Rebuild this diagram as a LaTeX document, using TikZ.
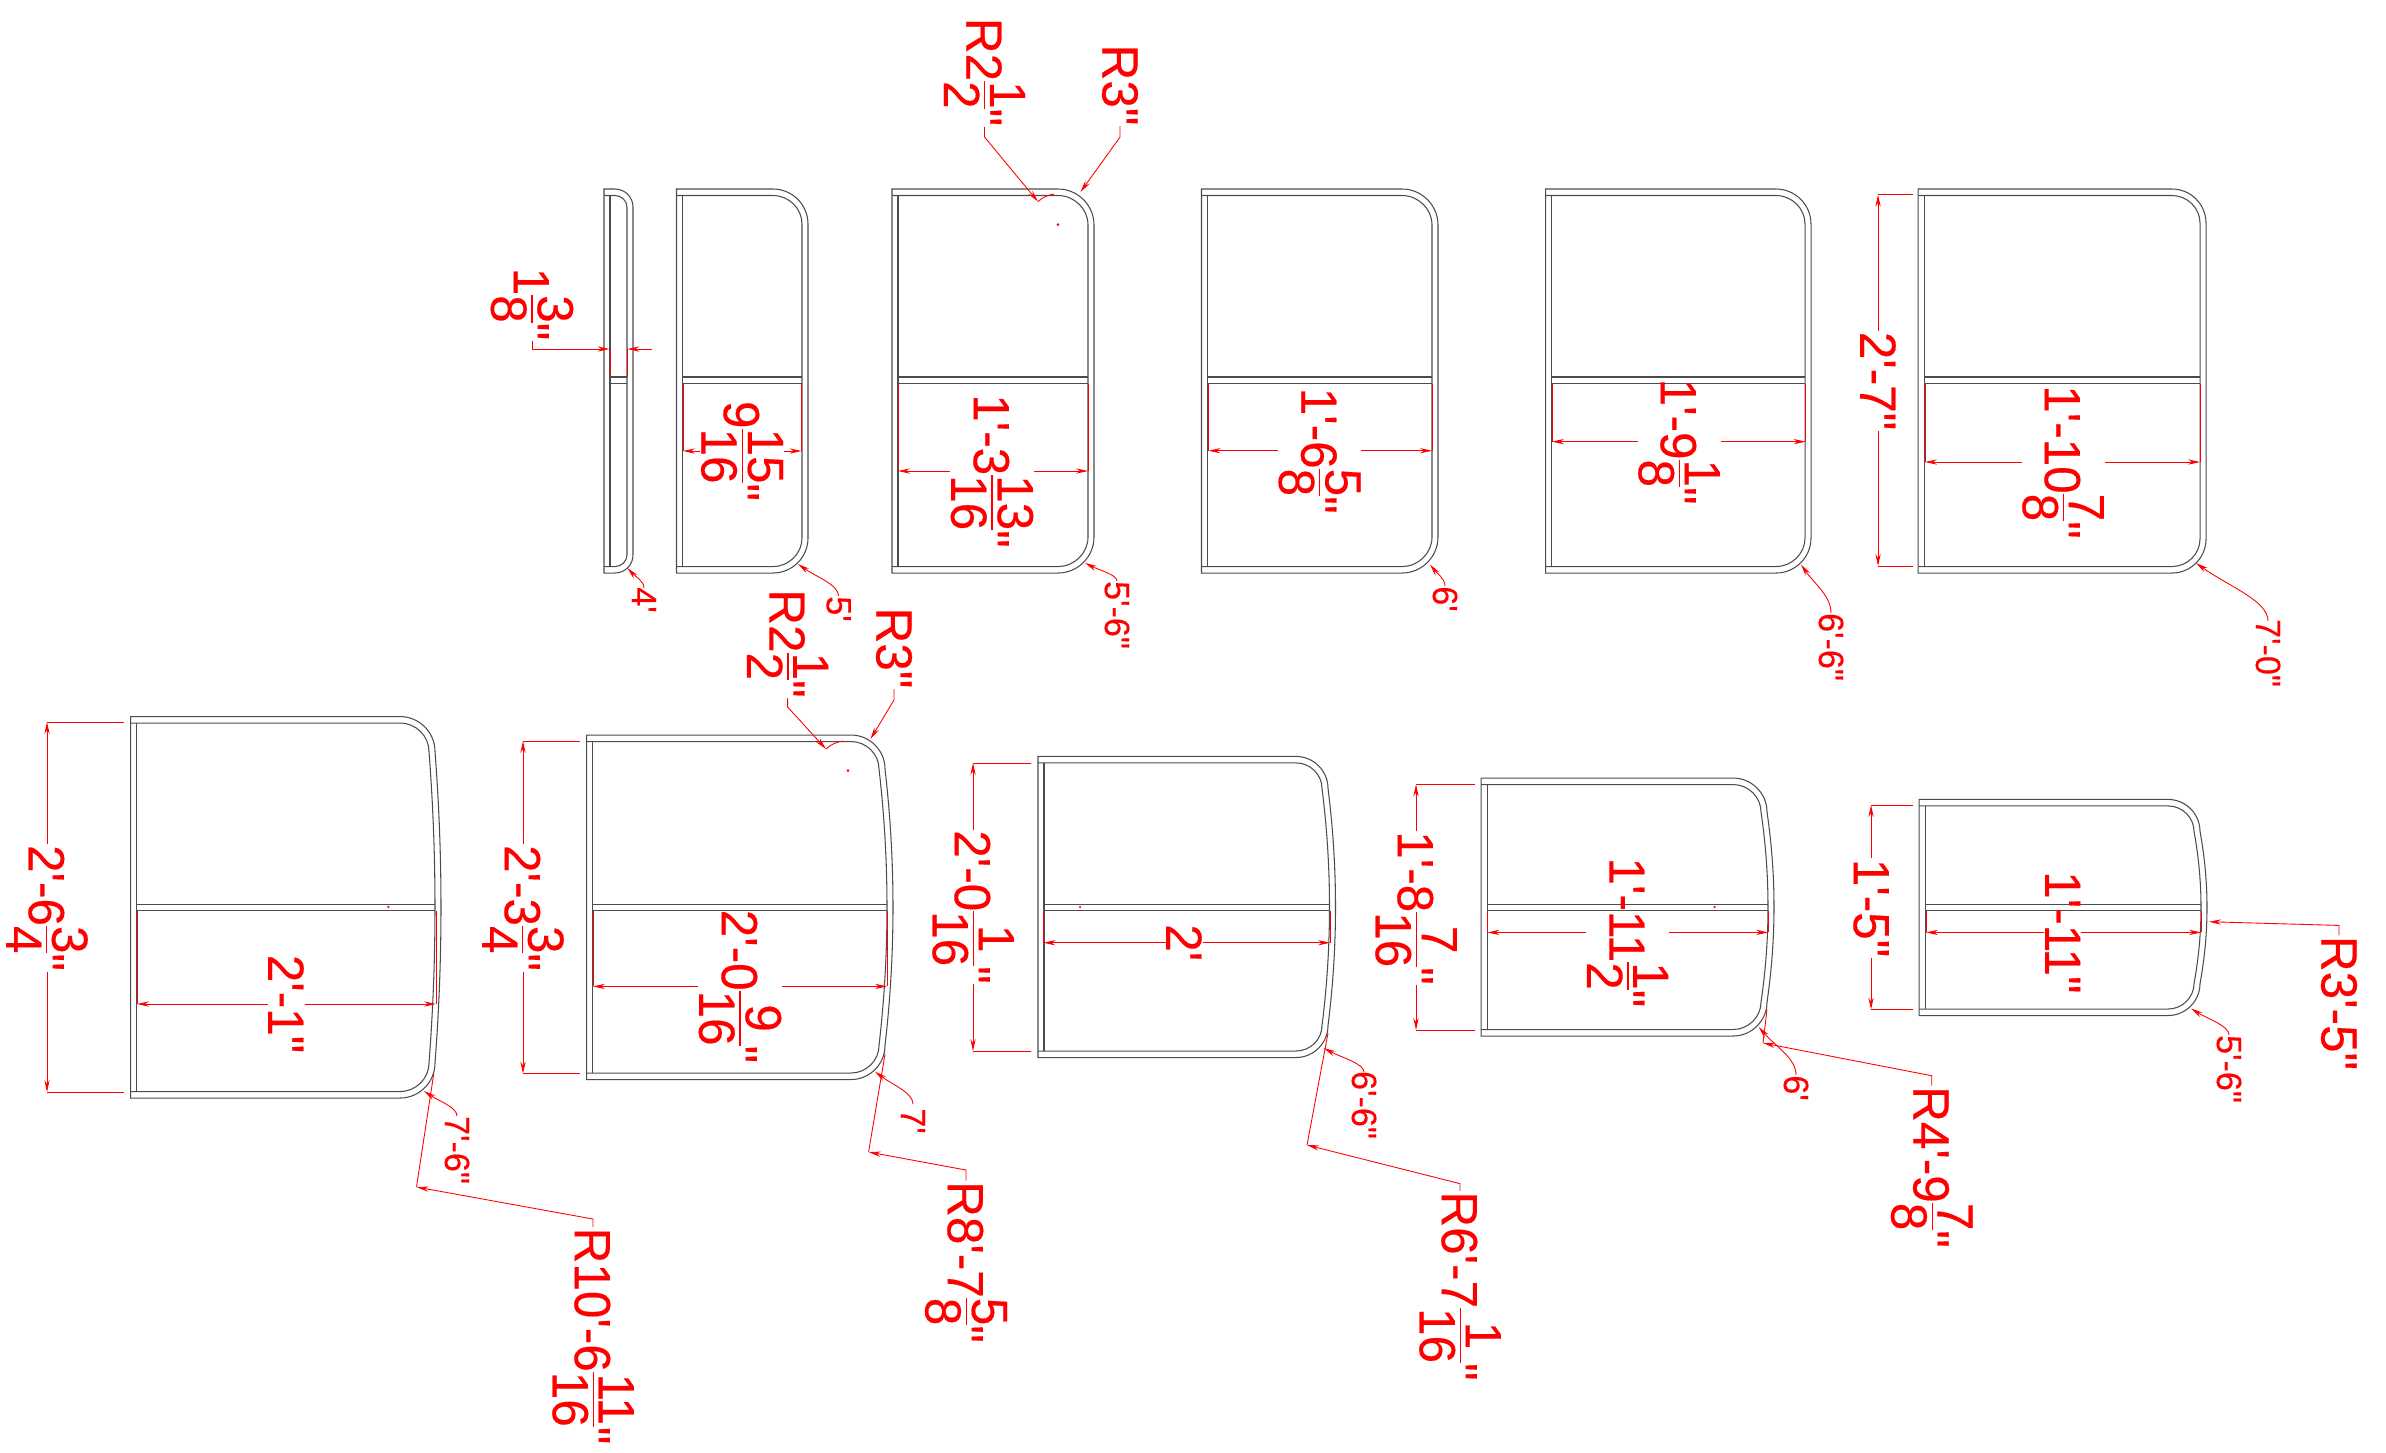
\documentclass[tikz,border=0pt]{standalone}
\usepackage{fontspec}
\usetikzlibrary{arrows.meta}
\newfontfamily\dimfont[FakeStretch=0.97,FakeBold=0.35]{Liberation Sans}
\newcommand{\fr}[2]{\raisebox{.11em}{$\vcenter{\offinterlineskip\halign{\hfil##\hfil\cr#1\cr\noalign{\kern.09em\hrule height .025em\kern.09em}#2\cr}}$}}
\tikzset{
  panelline/.style = {draw = black!70, line width = 0.3pt},
  extline/.style = {draw = red, line width = 0.25pt},
  dimline/.style = {extline, -{Stealth[length = 3.4pt, width = 1.5pt]}},
  dimtext/.style = {rotate = -90, text = red, inner sep = 0pt, font = \dimfont\fontsize{14.5}{15}\selectfont},
  smalltext/.style = {dimtext, font = \dimfont\fontsize{10}{11}\selectfont}
}
% x left, x right, top, bottom, corner radius, bulge, crossbar
\newcommand{\panel}[7]{
\draw [panelline] (#1,#3) -- ({#2-#5},#3) .. controls ({#2-0.45*#5},#3) and (#2,{#3+0.45*#5}) .. (#2,{#3+#5})
  .. controls ({#2+1.33*#6},{#3+#5+(#4-#3-2*#5)/3}) and ({#2+1.33*#6},{#4-#5-(#4-#3-2*#5)/3}) .. (#2,{#4-#5})
  .. controls (#2,{#4-0.45*#5}) and ({#2-0.45*#5},#4) .. ({#2-#5},#4) -- (#1,#4) -- cycle;
\draw [panelline] (#1,{#3+6.5}) -- ({#2-#5},{#3+6.5}) .. controls ({#2-6-0.45*(#5-6)},{#3+6.5}) and ({#2-6},{#3+6.5+0.45*(#5-6)}) .. ({#2-6},{#3+#5})
  .. controls ({#2-6+1.33*#6},{#3+#5+(#4-#3-2*#5)/3}) and ({#2-6+1.33*#6},{#4-#5-(#4-#3-2*#5)/3}) .. ({#2-6},{#4-#5})
  .. controls ({#2-6},{#4-6.5-0.45*(#5-6)}) and ({#2-6-0.45*(#5-6)},{#4-6.5}) .. ({#2-#5},{#4-6.5}) -- (#1,{#4-6.5});
\draw [panelline] ({#1+6},{#3+6.5}) -- ({#1+6},{#4-6.5});
\draw [panelline] ({#1+6},#7) -- ({#2-6+#6},#7);
\draw [panelline] ({#1+6},{#7+6.5}) -- ({#2-6+#6},{#7+6.5});
}
% name, x left, x right, y, start of extension, x of text, text
\newcommand{\widthdim}[7]{
\coordinate (#1l) at (#2,#4);
\coordinate (#1r) at (#3,#4);
\node [dimtext] (#1) at (#6,#4) {#7};
\draw [dimline] (#1) -- (#1l);
\draw [dimline] (#1) -- (#1r);
\draw [extline] (#2,#5) -- (#1l);
\draw [extline] (#3,#5) -- (#1r);
}
% name, x, y top, y bottom, end of extension, y of text, text
\newcommand{\heightdim}[7]{
\coordinate (#1t) at (#2,#3);
\coordinate (#1b) at (#2,#4);
\node [dimtext] (#1) at (#2,#6) {#7};
\draw [dimline] (#1) -- (#1t);
\draw [dimline] (#1) -- (#1b);
\draw [extline] (#1t) -- (#5,#3);
\draw [extline] (#1b) -- (#5,#4);
}
% name, tip x, tip y, x, y of text top, y of text, text
\newcommand{\bendnote}[7]{
\coordinate (#1t) at (#2,#3);
\coordinate (#1e) at (#4,#5);
\node [smalltext] (#1) at (#4,#6) {#7};
\draw [dimline] (#1e) .. controls (#4,{#5-0.35*(#5-#3)}) and ({#2+0.45*(#4-#2)},{#3+0.4*(#5-#3)}) .. (#1t);
}
\begin{document}
\begin{tikzpicture}[x = 0.1mm, y = -0.1mm]
\useasboundingbox (0,0) rectangle (2386,1452);
\panel{604}{633}{189}{573}{18}{0}{377}
\panel{676.5}{808}{189}{573}{35}{0}{377}
\panel{892}{1094}{189}{573}{36}{0}{377}
\panel{1201.5}{1438}{189}{573}{36}{0}{377}
\panel{1545.5}{1811}{189}{573}{35}{0}{377}
\panel{1918}{2206}{189}{573}{34}{0}{377}
\panel{130.7}{435}{716.5}{1098}{35}{6}{904}
\panel{586.7}{885}{735}{1079.5}{34}{8}{904}
\panel{1038}{1328}{756.4}{1057.5}{32}{7.5}{904}
\panel{1481}{1767}{778}{1036}{34}{7}{904}
\panel{1919}{2200}{799.4}{1015.5}{32}{7}{904}

\node [dimtext] (thick) at (532,304) {1\fr{3}{8}"};
\coordinate (thicka) at (609.5,349);
\coordinate (thickb) at (627.4,349);
\coordinate (thickc) at (652,349);
\draw [dimline] (thick.east) -- (532,349) -- (thicka);
\draw [dimline] (thickc) -- (thickb);
\draw [extline] (610.4,349) -- (610.4,377);
\draw [extline] (627,349) -- (627,377);

\widthdim{wB}{683}{801.5}{451}{384}{742}{9\fr{15}{16}"}
\widthdim{wC}{898}{1088}{471}{384}{992}{1'-3\fr{13}{16}"}
\widthdim{wD}{1208.5}{1432}{450.7}{384}{1319.5}{1'-6\fr{5}{8}"}
\widthdim{wE}{1552}{1805.5}{441.6}{384}{1679}{1'-9\fr{1}{8}"}
\widthdim{wF}{1925}{2200}{462}{384}{2063}{1'-10\fr{7}{8}"}
\widthdim{wG}{137}{436}{1004}{910.5}{286}{2'-1"}
\widthdim{wH}{593}{887}{986.4}{910.5}{740}{2'-0\fr{9}{16}"}
\widthdim{wI}{1043.5}{1330}{942.7}{910.5}{1184}{2'}
\widthdim{wJ}{1487.5}{1768}{932.4}{910.5}{1627.6}{1'-11\fr{1}{2}"}
\widthdim{wK}{1926}{2201}{932.4}{910.5}{2062.6}{1'-11"}

\heightdim{hF}{1878}{194.7}{566}{1913}{381}{2'-7"}
\heightdim{hG}{47}{722}{1092}{124}{908}{2'-6\fr{3}{4}"}
\heightdim{hH}{523}{741}{1073.6}{580}{908}{2'-3\fr{3}{4}"}
\heightdim{hI}{973}{763}{1051}{1030.6}{907}{2'-0\fr{1}{16}"}
\heightdim{hJ}{1416}{784.4}{1030}{1475}{908}{1'-8\fr{7}{16}"}
\heightdim{hK}{1871}{805}{1009.5}{1913}{908}{1'-5"}

\bendnote{nA}{627.4}{568}{644}{588}{600}{4'}
\bendnote{nB}{798}{564}{838.6}{596}{609}{5'}
\bendnote{nC}{1085}{563}{1117}{581}{615}{5'-6"}
\bendnote{nD}{1430}{564.5}{1445}{586}{599}{6'}
\bendnote{nE}{1801}{564.5}{1831}{613}{647}{6'-6"}
\bendnote{nF}{2196}{563}{2268}{621}{653}{7'-0"}
\bendnote{nG}{424}{1091}{457}{1116}{1150}{7'-6"}
\bendnote{nH}{875}{1071.6}{913}{1104}{1121}{7'}
\bendnote{nI}{1323.6}{1048}{1364}{1072}{1105}{6'-6"}
\bendnote{nJ}{1758.6}{1027}{1796}{1075}{1088}{6'}
\bendnote{nK}{2191}{1008.5}{2229}{1035}{1069}{5'-6"}

\node [dimtext] (rCi) at (984.5,72) {R2\fr{1}{2}"};
\coordinate (rCitip) at (1038,201.6);
\draw [dimline] (rCi.east) -- (984.5,137) -- (rCitip);
\draw [extline] (rCitip) .. controls (1043,197) and (1048,195) .. (1054,194);
\fill [red] (1058,224.6) circle (1.4);
\node [dimtext] (rCo) at (1120,85) {R3"};
\coordinate (rCotip) at (1080.5,192);
\draw [dimline] (rCo.east) -- (1120,137) -- (rCotip);

\node [dimtext] (rHi) at (787.6,643.5) {R2\fr{1}{2}"};
\coordinate (rHitip) at (826,749);
\draw [dimline] (rHi.east) -- (787.6,707) -- (rHitip);
\draw [extline] (rHitip) .. controls (831,744) and (837,742) .. (843,741);
\fill [red] (848,770.6) circle (1.4);
\node [dimtext] (rHo) at (894,648) {R3"};
\coordinate (rHotip) at (870.5,739);
\draw [dimline] (rHo.east) -- (894,700) -- (rHotip);

\node [dimtext] (rG) at (593,1336) {R10'-6\fr{11}{16}"};
\coordinate (rGtip) at (416.5,1187);
\draw [dimline] (rG.west) -- (593,1219) -- (rGtip);
\draw [extline] (433.7,1074) -- (rGtip);
\fill [red] (388.4,907) circle (1.2);

\node [dimtext] (rH) at (966,1262) {R8'-7\fr{5}{8}"};
\coordinate (rHtip) at (868.6,1152);
\draw [dimline] (rH.west) -- (966,1170) -- (rHtip);
\draw [extline] (885,1054) -- (rHtip);

\node [dimtext] (rI) at (1460,1286) {R6'-7\fr{1}{16}"};
\coordinate (rItip) at (1307,1145);
\draw [dimline] (rI.west) -- (1460,1183.6) -- (rItip);
\draw [extline] (1328,1033) -- (rItip);
\fill [red] (1080,907) circle (1.2);

\node [dimtext] (rJ) at (1931.7,1167) {R4'-9\fr{7}{8}"};
\coordinate (rJtip) at (1763,1043);
\draw [dimline] (rJ.west) -- (1931.7,1075.7) -- (rJtip);
\draw [extline] (1767,1009.4) -- (rJtip);
\fill [red] (1714.6,907) circle (1.2);

\node [dimtext] (rK) at (2339,1003) {R3'-5"};
\coordinate (rKtip) at (2209,921.7);
\draw [dimline] (rK.west) -- (2339,925.4) -- (rKtip);
\end{tikzpicture}
\end{document}
